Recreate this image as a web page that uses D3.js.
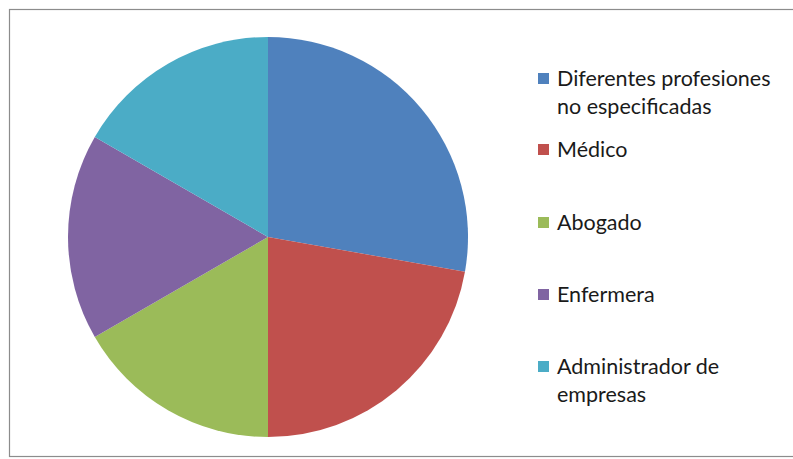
<!DOCTYPE html>
<html><head><meta charset="utf-8">
<script src="https://cdn.jsdelivr.net/npm/d3@7"></script>
<style>html,body{margin:0;padding:0;background:#fff;}</style>
</head><body>
<svg id="c" width="793" height="459"></svg>
<script>
const categories = ["Diferentes profesiones no especificadas","Médico","Abogado","Enfermera","Administrador de empresas"];
const legendLines = [["Diferentes profesiones","no especificadas"],["Médico"],["Abogado"],["Enfermera"],["Administrador de","empresas"]];
const values = [5,4,3,3,3];
const colors = ["#4F81BD","#C0504D","#9BBB59","#8064A2","#4BACC6"];

const svg = d3.select("#c");
svg.append("rect").attr("x",9.5).attr("y",9.5).attr("width",800).attr("height",447)
  .attr("fill","#fff").attr("stroke","#8c8c8c").attr("stroke-width",1.2);

const cx = 268, cy = 237, r = 200;
const pie = d3.pie().sort(null).value(d=>d);
const arc = d3.arc().innerRadius(0).outerRadius(r);
const g = svg.append("g").attr("transform",`translate(${cx},${cy})`);
g.selectAll("path").data(pie(values)).join("path")
  .attr("d",arc).attr("fill",(d,i)=>colors[i]);

const firstBaselines = [86,157,230,302,374];
const lineGap = 28;
const lg = svg.append("g");
legendLines.forEach((lines,i)=>{
  lg.append("rect").attr("x",538).attr("y",firstBaselines[i]-13).attr("width",11).attr("height",11).attr("fill",colors[i]);
  lines.forEach((t,j)=>{
    lg.append("text").attr("x",557).attr("y",firstBaselines[i]+j*lineGap)
      .attr("font-family","Lato, 'Open Sans', sans-serif").attr("font-size",21.5).attr("fill","#1a1a1a").text(t);
  });
});
</script>
</body></html>
